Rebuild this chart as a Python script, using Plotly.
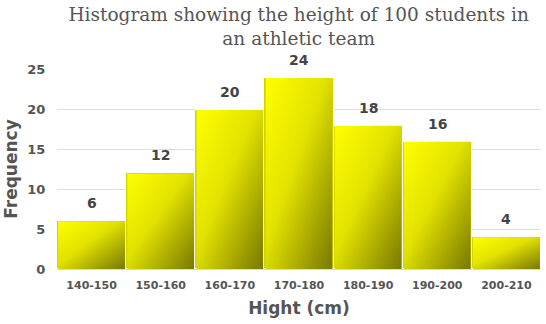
import base64
import plotly.graph_objects as go

# Height classes (cm) and number of students in each class
classes = ["140-150", "150-160", "160-170", "170-180", "180-190", "190-200", "200-210"]
frequency = [6, 12, 20, 24, 18, 16, 4]
y_ticks = [0, 5, 10, 15, 20, 25]

# Diagonal yellow-to-olive gradient used to paint each bar
gradient_svg = (
    '<svg xmlns="http://www.w3.org/2000/svg" width="100" height="100" preserveAspectRatio="none">'
    '<defs><linearGradient id="g" x1="0" y1="0" x2="1" y2="1">'
    '<stop offset="0" stop-color="#ffff00"/>'
    '<stop offset="0.45" stop-color="#e2e200"/>'
    '<stop offset="1" stop-color="#787800"/>'
    '</linearGradient></defs>'
    '<rect width="100" height="100" fill="url(#g)"/></svg>'
)
gradient_uri = "data:image/svg+xml;base64," + base64.b64encode(gradient_svg.encode()).decode()

fig = go.Figure()
fig.add_trace(go.Bar(
    x=classes,
    y=frequency,
    marker=dict(color="#d4d400", line=dict(color="white", width=1)),
    width=1,
    hoverinfo="x+y",
))

bar_w = 0.97
images = []
annotations = []
for i, (c, v) in enumerate(zip(classes, frequency)):
    images.append(dict(
        source=gradient_uri, xref="x", yref="y",
        x=i - bar_w / 2, y=v, sizex=bar_w, sizey=v,
        xanchor="left", yanchor="top", sizing="stretch", layer="above",
    ))
    annotations.append(dict(
        x=c, y=v, text=str(v), showarrow=False, yanchor="bottom", yshift=8,
        font=dict(family="DejaVu Sans", size=14, color="#444444", weight="bold"),
    ))

fig.update_layout(
    width=546, height=324,
    margin=dict(l=57, r=5, t=69, b=55),
    paper_bgcolor="white", plot_bgcolor="white",
    showlegend=False,
    bargap=0,
    images=images,
    annotations=annotations,
    title=dict(
        text="Histogram showing the height of 100 students in<br>an athletic team",
        x=0.547, xanchor="center", y=1 - 21 / 324, yanchor="middle",
        font=dict(family="DejaVu Serif", size=18.5, color="#555555"),
    ),
    xaxis=dict(
        title=dict(text="Hight (cm)", standoff=10,
                   font=dict(family="DejaVu Sans", size=17, color="#555555", weight="bold")),
        tickfont=dict(family="DejaVu Sans", size=11, color="#555555", weight="bold"),
        showgrid=False, showline=True, linecolor="#d9d9d9", linewidth=1,
        ticks="outside", ticklen=6, tickcolor="rgba(0,0,0,0)", range=[-0.5, 6.5],
    ),
    yaxis=dict(
        title=dict(text="Frequency", standoff=5,
                   font=dict(family="DejaVu Sans", size=17, color="#555555", weight="bold")),
        tickfont=dict(family="DejaVu Sans", size=13, color="#555555", weight="bold"),
        tickvals=y_ticks, range=[0, 25.1],
        showgrid=True, gridcolor="#dddddd", gridwidth=1,
        zeroline=False, showline=False,
        ticks="outside", ticklen=8, tickcolor="rgba(0,0,0,0)",
    ),
)

fig.write_html("out.html")
